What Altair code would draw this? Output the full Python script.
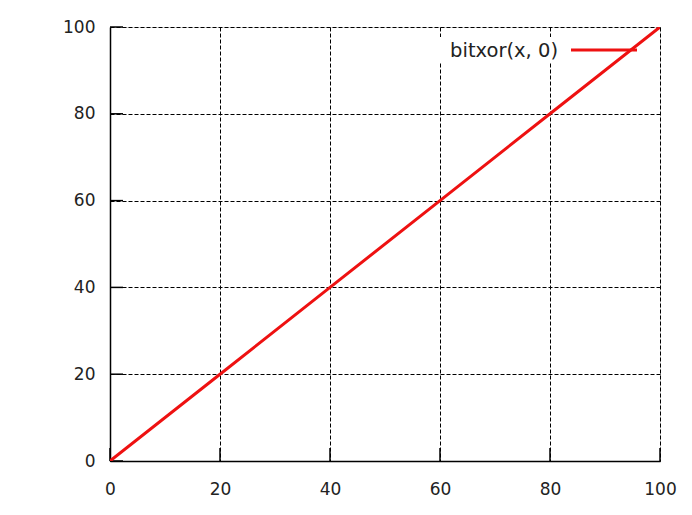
import altair as alt
import pandas as pd

# data
x_vals = [0, 20, 40, 60, 80, 100]
y_vals = [0, 20, 40, 60, 80, 100]
tick_vals = [0, 20, 40, 60, 80, 100]
series_name = "bitxor(x, 0)"

W, H = 550, 434
RED = "#ee1111"
FONT = "DejaVu Sans"

df = pd.DataFrame({"x": x_vals, "y": y_vals})
ticks = pd.DataFrame({"v": tick_vals})

xscale = alt.Scale(domain=[0, 100], nice=False)
yscale = alt.Scale(domain=[0, 100], nice=False)

xaxis = alt.Axis(values=tick_vals, title=None, grid=True, ticks=False, labelFlush=False,
                 gridColor="black", gridDash=[4, 2], gridOpacity=1, gridWidth=1,
                 domainColor="black", domainWidth=1.5, labelPadding=20,
                 labelFont=FONT, labelFontSize=17, labelColor="#222222")
yaxis = alt.Axis(values=tick_vals, title=None, grid=True, ticks=False, labelFlush=False,
                 gridColor="black", gridDash=[4, 2], gridOpacity=1, gridWidth=1,
                 domainColor="black", domainWidth=1.5, labelPadding=15,
                 labelFont=FONT, labelFontSize=17, labelColor="#222222")

base_line = alt.Chart(df).mark_line(color=RED, strokeWidth=3, clip=True).encode(
    x=alt.X("x:Q", scale=xscale, axis=xaxis),
    y=alt.Y("y:Q", scale=yscale, axis=yaxis),
)

# legend background box (covers grid only)
legend_bg = alt.Chart(pd.DataFrame({"a": [0]})).mark_rect(color="white").encode(
    x=alt.value(328), x2=alt.value(537), y=alt.value(10), y2=alt.value(36)
)

# inward tick marks on bottom and left axes
xticks = alt.Chart(ticks).mark_rule(color="black", strokeWidth=1.5).encode(
    x=alt.X("v:Q", scale=xscale), y=alt.value(H), y2=alt.value(H - 13)
)
yticks = alt.Chart(ticks).mark_rule(color="black", strokeWidth=1.5).encode(
    y=alt.Y("v:Q", scale=yscale), x=alt.value(0), x2=alt.value(13)
)

legend_text = alt.Chart(pd.DataFrame({"t": [series_name]})).mark_text(
    align="right", baseline="alphabetic", font=FONT, fontSize=19.5, color="#222222"
).encode(text="t:N", x=alt.value(448), y=alt.value(30))

legend_line = alt.Chart(pd.DataFrame({"a": [0]})).mark_rule(color=RED, strokeWidth=3).encode(
    x=alt.value(461), x2=alt.value(527), y=alt.value(23)
)

chart = alt.layer(legend_bg, xticks, yticks, base_line, legend_text, legend_line).properties(
    width=W, height=H,
    autosize=alt.AutoSizeParams(type="none"),
    padding={"left": 102, "top": 19, "right": 20, "bottom": 40},
).configure_view(stroke=None).configure(background="white")

chart.save("out.html", embed_options={"renderer": "svg", "actions": False})
